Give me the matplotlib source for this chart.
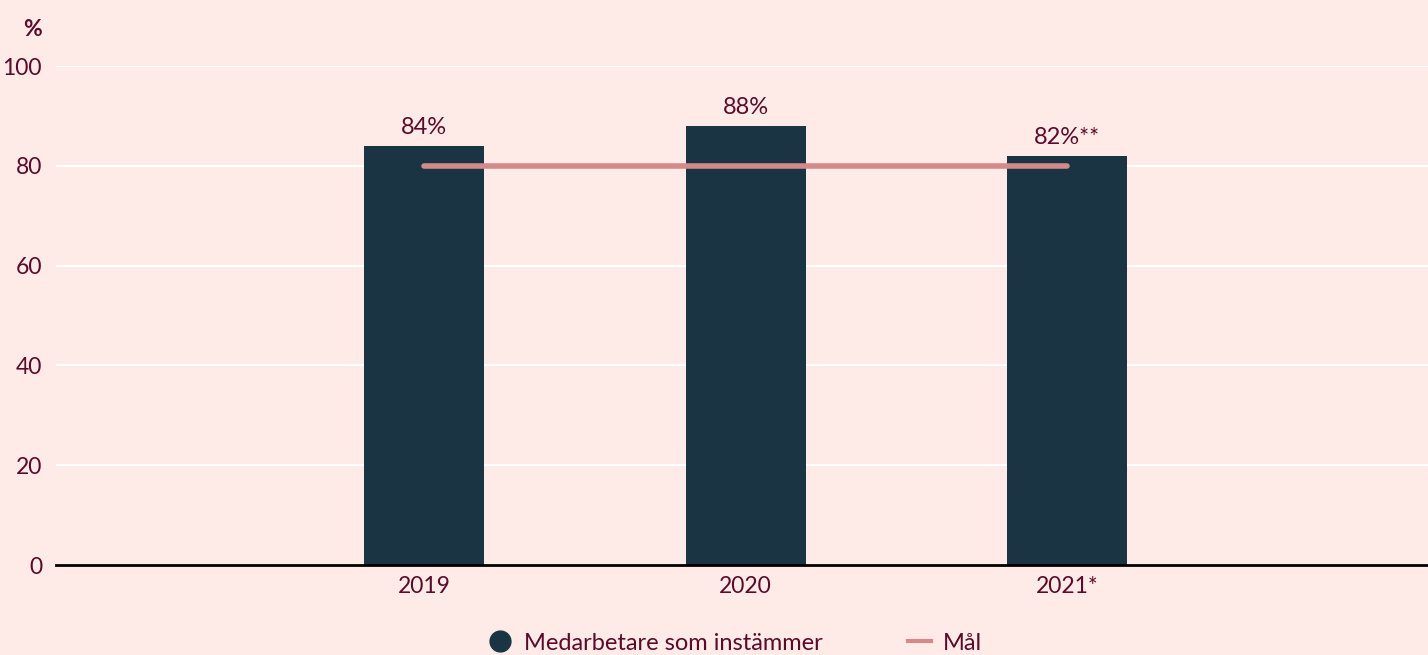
import matplotlib.pyplot as plt
from matplotlib.lines import Line2D

# data
years = ["2019", "2020", "2021*"]
agree = [84, 88, 82]
bar_labels = ["84%", "88%", "82%**"]
goal = [80, 80, 80]

bg = "#FEEAE7"
txt = "#5A0B2C"
bar_col = "#1B3443"
goal_col = "#D48A8A"

plt.rcParams['font.family'] = ['Lato', 'DejaVu Sans']

fig = plt.figure(figsize=(14.28, 6.55), dpi=100, facecolor=bg)
ax = fig.add_axes([0.0392, 0.1374, 0.9608, 0.7618])
ax.set_facecolor(bg)

x = list(range(len(years)))
ax.bar(x, agree, width=0.373, color=bar_col, zorder=3)
ax.plot(x, goal, color=goal_col, lw=4, solid_capstyle='round', zorder=4)

for xi, v, lab in zip(x, agree, bar_labels):
    ax.text(xi, v + 1.6, lab, ha='center', va='bottom', fontsize=17, color=txt)

ax.set_xlim(-1.145, 3.122)
ax.set_ylim(0, 100)
ax.set_yticks([0, 20, 40, 60, 80, 100])
ax.set_xticks(x)
ax.set_xticklabels(years)
ax.tick_params(axis='both', length=0, labelsize=16.5, colors=txt)
ax.tick_params(axis='y', pad=10)
ax.tick_params(axis='x', pad=8)
ax.grid(axis='y', color='white', lw=1.5, zorder=0)
for s in ['top', 'right', 'left']:
    ax.spines[s].set_visible(False)
ax.spines['bottom'].set_color('black')
ax.spines['bottom'].set_linewidth(2)
ax.spines['bottom'].set_zorder(5)

fig.text(0.016, 0.955, "%", fontsize=16.5, fontweight='bold', color=txt, ha='left', va='center')

handles = [
    Line2D([], [], marker='o', ls='none', markersize=15, color=bar_col),
    Line2D([], [], color=goal_col, lw=3),
]
fig.legend(handles, ["Medarbetare som instämmer", "Mål"], loc='center',
           bbox_to_anchor=(0.515, 0.018), ncol=2, frameon=False, fontsize=17,
           labelcolor=txt, handlelength=1.0, handletextpad=0.5, columnspacing=3.6)

fig.savefig("out.png", dpi=100, facecolor=bg)
